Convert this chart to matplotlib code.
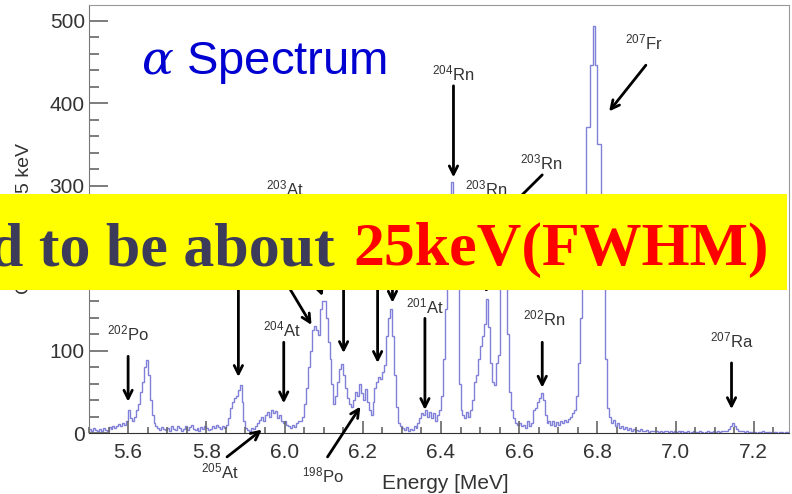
import numpy as np
import matplotlib.pyplot as plt
from matplotlib.ticker import MultipleLocator, FormatStrFormatter
from matplotlib.patches import Rectangle

plt.rcParams['font.family'] = ['Liberation Sans', 'DejaVu Sans']
plt.rcParams['mathtext.fontset'] = 'custom'
plt.rcParams['mathtext.rm'] = 'Liberation Sans'
plt.rcParams['mathtext.it'] = 'DejaVu Serif:italic'

# counts per 5 keV bin, one row per 0.1 MeV
e_start = 5.5
bin_w = 0.005
c_55 = [5, 3, 6, 4, 2, 5, 3, 6, 4, 3, 7, 5, 9, 6, 8, 11, 9, 12, 10, 14]
c_56 = [28, 18, 15, 20, 28, 35, 50, 62, 80, 88, 70, 40, 22, 12, 8, 6, 4, 7, 5, 4]
c_57 = [6, 3, 8, 5, 4, 9, 6, 3, 5, 8, 4, 7, 10, 5, 4, 6, 3, 7, 5, 9]
c_58 = [6, 4, 5, 8, 6, 10, 7, 5, 8, 6, 10, 18, 30, 38, 42, 45, 52, 58, 38, 15]
c_59 = [6, 4, 3, 6, 5, 8, 12, 16, 20, 14, 22, 26, 20, 28, 24, 27, 18, 22, 15, 12]
c_60 = [14, 10, 8, 6, 10, 7, 12, 15, 14, 20, 35, 55, 80, 100, 125, 130, 125, 119, 150, 160]
c_61 = [160, 140, 110, 90, 60, 35, 45, 62, 78, 84, 70, 55, 42, 35, 32, 40, 50, 45, 59, 48]
c_62 = [40, 53, 38, 28, 22, 38, 55, 62, 68, 66, 74, 82, 118, 140, 150, 118, 70, 32, 12, 8]
c_63 = [6, 4, 7, 3, 5, 4, 8, 6, 12, 18, 24, 22, 28, 20, 25, 18, 24, 15, 22, 28]
c_64 = [45, 90, 150, 210, 255, 304, 265, 220, 185, 60, 28, 22, 18, 25, 20, 28, 40, 62, 70, 90]
c_65 = [105, 118, 132, 163, 128, 85, 62, 58, 85, 95, 220, 265, 250, 220, 120, 50, 28, 18, 12, 10]
c_66 = [12, 8, 10, 6, 14, 8, 12, 28, 30, 38, 42, 48, 40, 22, 12, 15, 10, 14, 9, 13]
c_67 = [10, 14, 12, 16, 13, 17, 20, 24, 28, 45, 85, 140, 210, 270, 371, 371, 446, 446, 493, 446]
c_68 = [351, 351, 260, 190, 90, 30, 20, 12, 16, 8, 12, 6, 9, 5, 7, 4, 6, 3, 5, 3]
c_69 = [4, 2, 5, 3, 2, 4, 1, 3, 2, 2, 3, 1, 2, 1, 3, 2, 1, 2, 1, 2]
c_70 = [1, 2, 1, 3, 1, 1, 2, 0, 1, 2, 1, 1, 2, 1, 0, 1, 2, 1, 1, 2]
c_71 = [1, 2, 1, 2, 2, 3, 2, 5, 8, 12, 9, 5, 3, 2, 2, 1, 2, 1, 1, 1]
c_72 = [1, 0, 1, 1, 2, 1, 0, 1, 1, 0, 1, 1, 0, 1, 1, 0, 1, 1, 0, 1]

counts = np.concatenate([c_55, c_56, c_57, c_58, c_59, c_60, c_61, c_62, c_63,
                         c_64, c_65, c_66, c_67, c_68, c_69, c_70, c_71, c_72])
edges = e_start + bin_w*np.arange(len(counts) + 1)

fig = plt.figure(figsize=(7.92, 4.94), dpi=100)
ax = fig.add_axes([89/792, 1 - 433/494, 700/792, 428/494])

ax.stairs(counts, edges, color='#8080d8', lw=1.0)

ax.set_xlim(5.5, 7.29)
ax.set_ylim(0, 519)
ax.xaxis.set_major_locator(MultipleLocator(0.2))
ax.xaxis.set_minor_locator(MultipleLocator(0.05))
ax.xaxis.set_major_formatter(FormatStrFormatter('%.1f'))
ax.yaxis.set_major_locator(MultipleLocator(100))
ax.yaxis.set_minor_locator(MultipleLocator(20))
ax.tick_params(which='both', direction='in', colors='#666', labelcolor='#333',
               labelsize=15, width=1.2, top=False, right=False)
ax.tick_params(axis='y', which='major', length=14, pad=3)
ax.tick_params(axis='y', which='minor', length=7)
ax.tick_params(axis='x', which='major', length=9, pad=7)
ax.tick_params(axis='x', which='minor', length=4)
for s in ax.spines.values():
    s.set_color('#999')
ax.spines['left'].set_color('#777')
ax.spines['bottom'].set_color('#333')

ax.set_xlabel('Energy [MeV]', fontsize=15, color='#333')
ax.xaxis.set_label_coords(0.509, -0.095)
ax.set_ylabel('Counts per 5 keV', fontsize=14, color='#333')
ax.yaxis.set_label_coords(-0.08, 0.5)

ax.text(0.074, 0.839, r'$\alpha$ Spectrum', transform=ax.transAxes, fontsize=34,
        color='#0000d0', va='baseline')

#isotope labels
labels = [(r'$^{\mathrm{202}}$Po', 5.600, 121), (r'$^{\mathrm{203}}$At', 6.000, 297),
          (r'$^{\mathrm{204}}$At', 5.993, 126), (r'$^{\mathrm{201}}$At', 6.358, 153),
          (r'$^{\mathrm{203}}$Rn', 6.516, 297), (r'$^{\mathrm{203}}$Rn', 6.656, 328),
          (r'$^{\mathrm{204}}$Rn', 6.432, 436), (r'$^{\mathrm{207}}$Fr', 6.919, 474),
          (r'$^{\mathrm{202}}$Rn', 6.664, 139), (r'$^{\mathrm{207}}$Ra', 7.143, 112),
          (r'$^{\mathrm{205}}$At', 5.835, -47), (r'$^{\mathrm{198}}$Po', 6.097, -52)]
for txt, x, y in labels:
    ax.text(x, y, txt, fontsize=12, color='#333', ha='center', va='center')

#arrows: (tail, tip)
arrows = [((5.600, 93), (5.600, 38)), ((5.882, 222), (5.882, 68)),
          ((5.954, 222), (6.069, 131)), ((6.013, 276), (6.097, 166)),
          ((6.151, 222), (6.151, 97)), ((6.238, 222), (6.238, 85)),
          ((6.276, 222), (6.276, 158)), ((6.359, 139), (6.359, 28)),
          ((6.516, 282), (6.516, 170)), ((6.659, 313), (6.574, 273)),
          ((6.432, 421), (6.432, 310)), ((6.924, 446), (6.830, 390)),
          ((5.998, 110), (5.998, 36)), ((5.853, -29), (5.942, 4)),
          ((6.110, -29), (6.194, 32)), ((6.659, 110), (6.659, 55)),
          ((7.143, 85), (7.143, 29))]
for tail, tip in arrows:
    ax.annotate('', xy=tip, xytext=tail, annotation_clip=False,
                arrowprops=dict(arrowstyle='->, head_length=0.6, head_width=0.3',
                                color='black', lw=2, shrinkA=0, shrinkB=0))

#yellow banner on top
fig.add_artist(Rectangle((0, 204/494), 787/792, 96/494, transform=fig.transFigure,
                         facecolor='#ffff00', edgecolor='none', zorder=5))
fig.text(335/792, 1 - 265/494, 'd to be about', ha='right', va='baseline',
         fontsize=44.6, family='Liberation Serif', weight='bold', color='#3d3b5a', zorder=6)
fig.text(353/792, 1 - 265/494, '25keV(FWHM)', ha='left', va='baseline',
         fontsize=44.6, family='Liberation Serif', weight='bold', color='#ff0000', zorder=6)

plt.savefig('out.png', dpi=100)
